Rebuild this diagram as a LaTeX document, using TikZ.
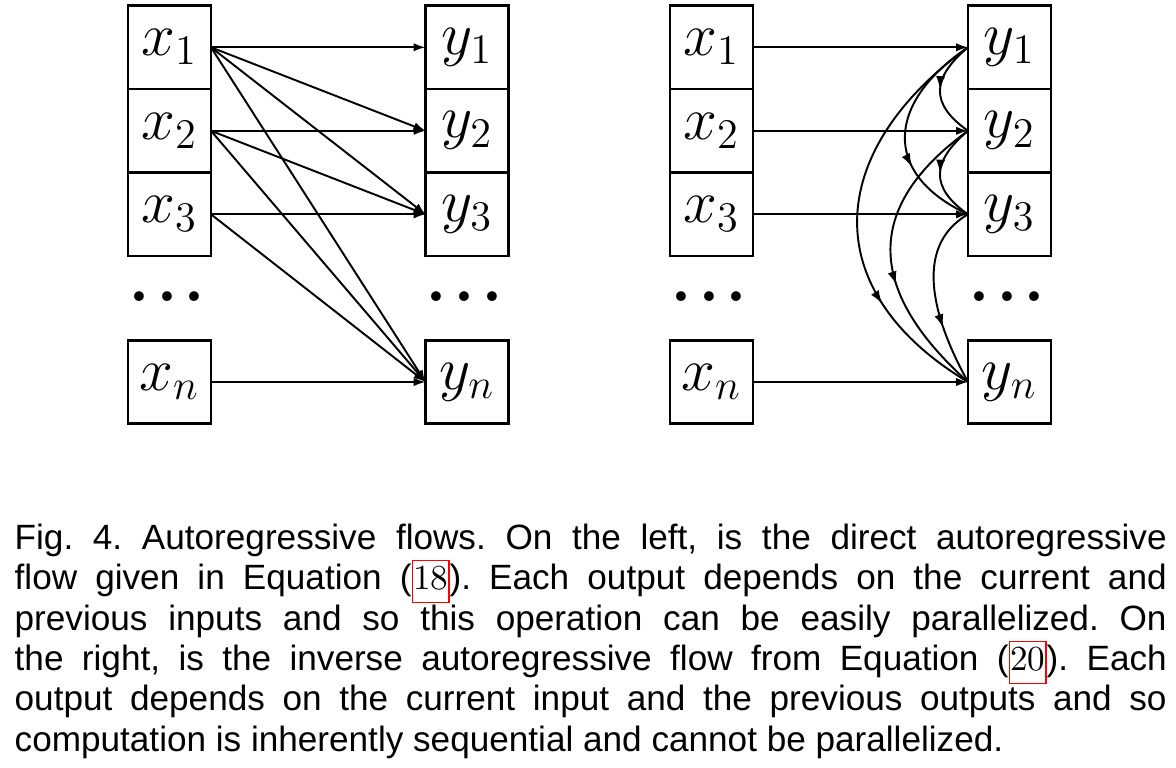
\documentclass[tikz,border=0pt]{standalone}
\usepackage[no-math]{fontspec}
\setsansfont{Liberation Sans}
\usetikzlibrary{arrows.meta,positioning,decorations.markings}
\DeclareMathSizes{17}{17}{13}{10}
\newcommand{\eqlink}[1]{{\color{red}\setlength{\fboxsep}{0pt}\setlength{\fboxrule}{0.4pt}\fbox{\color{black}\rmfamily\strut#1}}}
\tikzset{
 cell/.style={draw,line width=0.75pt,minimum width=0.83cm,minimum height=0.835cm,
  inner sep=0pt,outer sep=0pt,font=\fontsize{17}{20}\selectfont},
 etc/.style={inner sep=0pt,font=\fontsize{34}{40}\selectfont},
 link/.style={->,line width=0.55pt},
 midarrow/.style={line width=0.55pt,postaction={decorate},
  decoration={markings,mark=at position #1 with {\arrow{Latex[length=3.8pt,width=2.6pt]}}}},
 midarrow/.default=0.5
}
\newcommand{\rowdots}{.\kern-0.6pt.\kern-0.6pt.}

\begin{document}
\begin{tikzpicture}[>={Latex[length=3.4pt,width=2.4pt]},line cap=round]
 \useasboundingbox (0,0) rectangle (11.76,-7.67);
 % direct flow (left)
 \node[cell] (lx1) at (1.695,-0.473) {$x_1$};
 \node[cell,below=0pt of lx1] (lx2) {$x_2$};
 \node[cell,below=0pt of lx2] (lx3) {$x_3$};
 \node[etc] (lxd) at (1.67,-2.97) {\rowdots};
 \node[cell] (lxn) at (1.695,-3.82) {$x_n$};
 \node[cell] (ly1) at (4.67,-0.473) {$y_1$};
 \node[cell,below=0pt of ly1] (ly2) {$y_2$};
 \node[cell,below=0pt of ly2] (ly3) {$y_3$};
 \node[etc] (lyd) at (4.645,-2.97) {\rowdots};
 \node[cell] (lyn) at (4.67,-3.82) {$y_n$};
 \draw[link] (lx1.east) -- (ly1.west);
 \draw[link] (lx1.east) -- (ly2.west);
 \draw[link] (lx1.east) -- (ly3.west);
 \draw[link] (lx1.east) -- (lyn.west);
 \draw[link] (lx2.east) -- (ly2.west);
 \draw[link] (lx2.east) -- (ly3.west);
 \draw[link] (lx2.east) -- (lyn.west);
 \draw[link] (lx3.east) -- (ly3.west);
 \draw[link] (lx3.east) -- (lyn.west);
 \draw[link] (lxn.east) -- (lyn.west);
 % inverse flow (right)
 \node[cell] (rx1) at (7.115,-0.473) {$x_1$};
 \node[cell,below=0pt of rx1] (rx2) {$x_2$};
 \node[cell,below=0pt of rx2] (rx3) {$x_3$};
 \node[etc] (rxd) at (7.09,-2.97) {\rowdots};
 \node[cell] (rxn) at (7.115,-3.82) {$x_n$};
 \node[cell] (ry1) at (10.095,-0.473) {$y_1$};
 \node[cell,below=0pt of ry1] (ry2) {$y_2$};
 \node[cell,below=0pt of ry2] (ry3) {$y_3$};
 \node[etc] (ryd) at (10.07,-2.97) {\rowdots};
 \node[cell] (ryn) at (10.095,-3.82) {$y_n$};
 \draw[link] (rx1.east) -- (ry1.west);
 \draw[link] (rx2.east) -- (ry2.west);
 \draw[link] (rx3.east) -- (ry3.west);
 \draw[link] (rxn.east) -- (ryn.west);
 \draw[midarrow] (ry1.west) to[out=220,in=145,looseness=1.45] (ry2.west);
 \draw[midarrow] (ry2.west) to[out=220,in=145,looseness=1.45] (ry3.west);
 \draw[midarrow=.66] (ry1.west) to[out=214,in=155,looseness=1.49] (ry3.west);
 \draw[midarrow=.72] (ry1.west) to[out=216,in=149,looseness=1.36] (ryn.west);
 \draw[midarrow=.6] (ry2.west) to[out=216,in=138,looseness=1.36] (ryn.west);
 \draw[midarrow=.68] (ry3.west) to[out=210,in=119,looseness=1.02] (ryn.west);
 % caption
 \node[font=\sffamily\fontsize{10}{11.5}\selectfont,text width=11.52cm,align=justify,
  inner sep=0pt,anchor=north west] (caption) at (0.14,-5.23)
  {\frenchspacing Fig.~4. Autoregressive flows. On the left, is the direct autoregressive\linebreak
   flow given in Equation (\eqlink{18}). Each output depends on the current and\linebreak
   previous inputs and so this operation can be easily parallelized. On\linebreak
   the right, is the inverse autoregressive flow from Equation (\eqlink{20}). Each\linebreak
   output depends on the current input and the previous outputs and so\linebreak
   computation is inherently sequential and cannot be parallelized.};
\end{tikzpicture}
\end{document}
